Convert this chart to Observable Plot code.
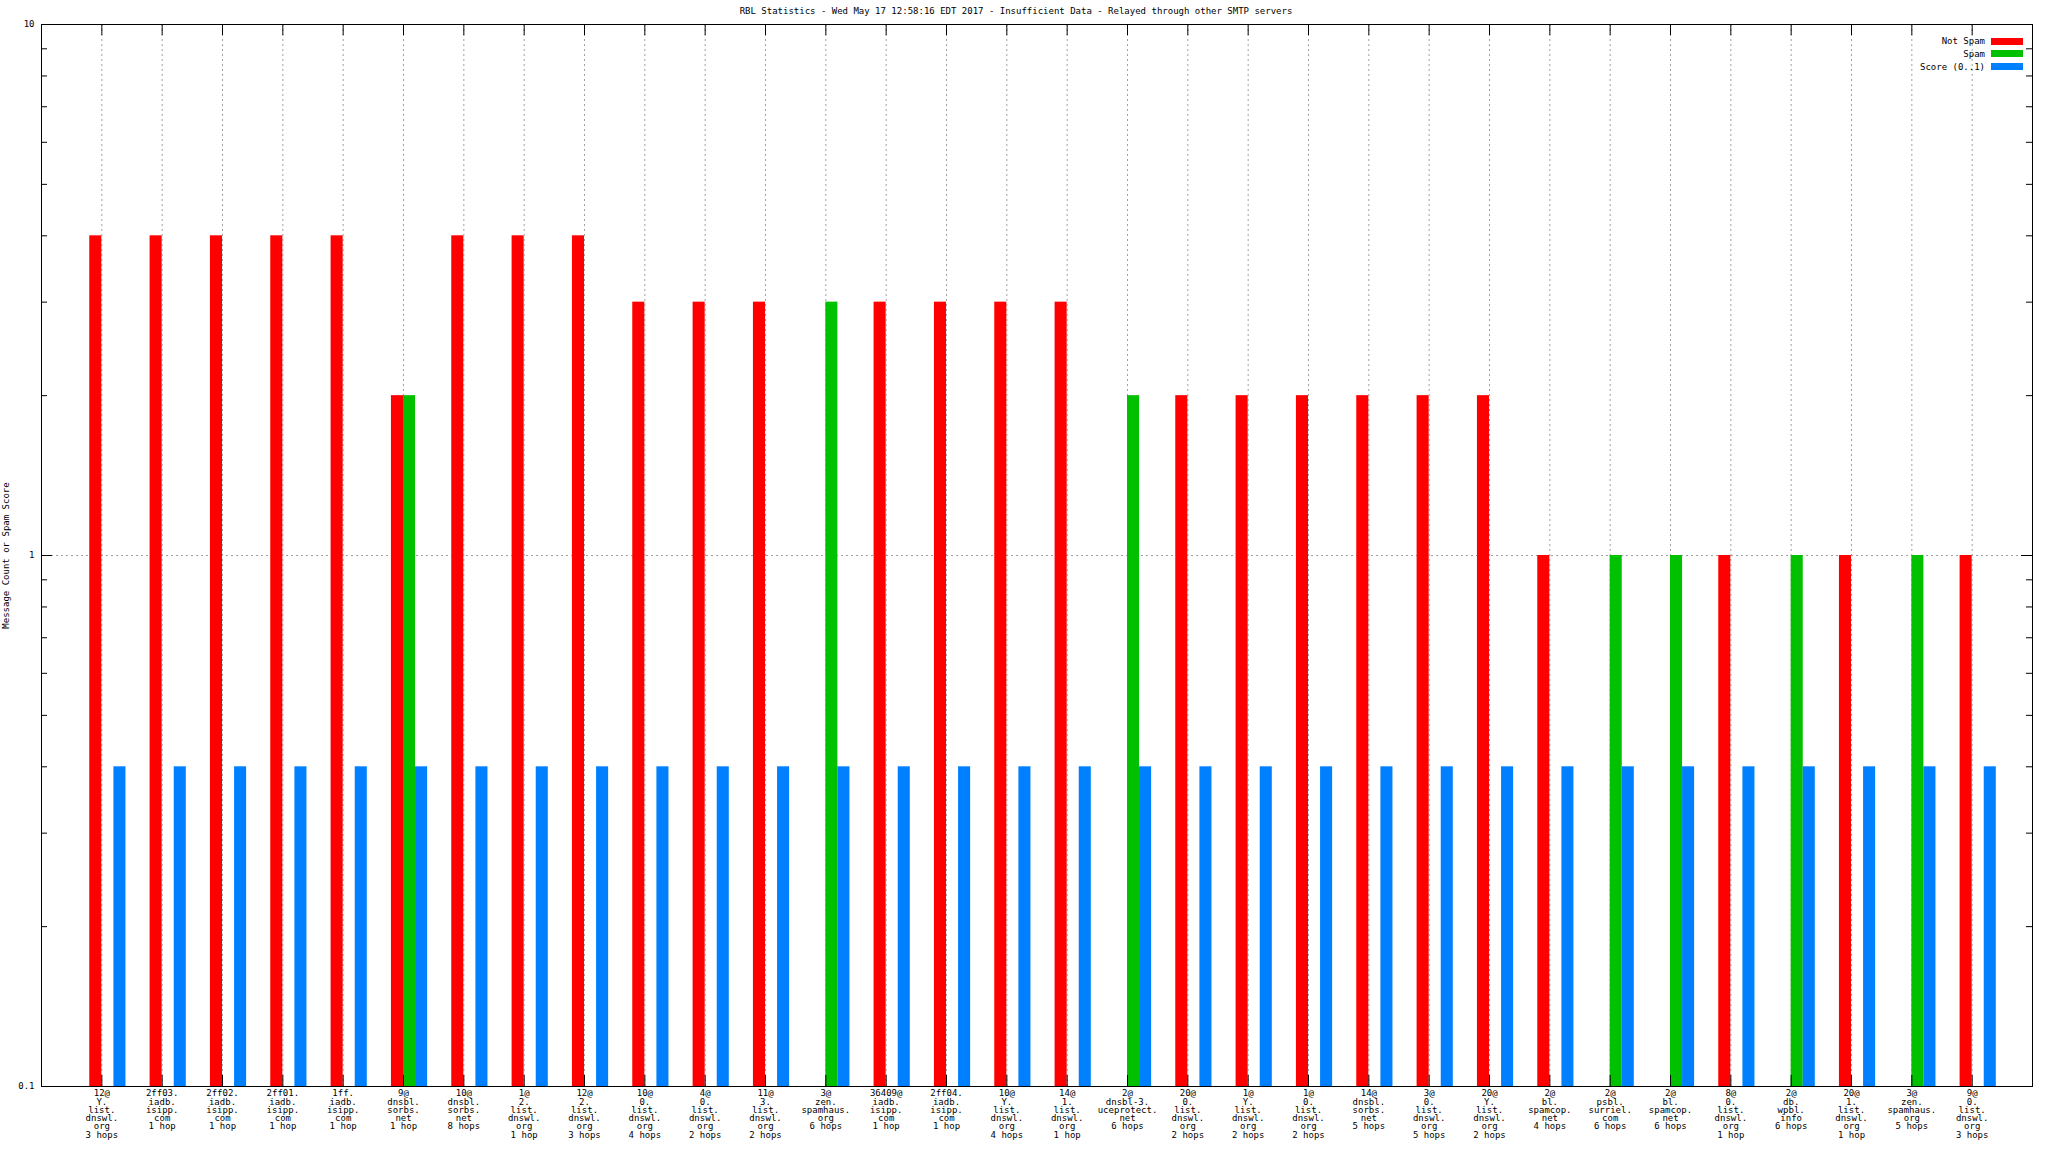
<!DOCTYPE html>
<html>
<head>
<meta charset="utf-8">
<script src="https://cdn.jsdelivr.net/npm/d3@7"></script>
<script src="https://cdn.jsdelivr.net/npm/@observablehq/plot@0.6"></script>
<style>
  html, body { margin: 0; padding: 0; background: #fff; }
  #wrap { position: relative; width: 2048px; height: 1152px; font-family: "DejaVu Sans Mono", monospace; font-size: 9px; color: #000; }
  #title { position: absolute; top: 6px; left: 0; width: 2032px; text-align: center; line-height: 10px; }
  .leg { position: absolute; right: 25px; height: 12px; display: flex; align-items: center; gap: 6px; line-height: 10px; }
  .sw { width: 32px; height: 7px; }
</style>
</head>
<body>
<div id="wrap">
  <div id="chart"></div>
  <div id="title"></div>
  <div id="legend"></div>
</div>
<script>
const title = "RBL Statistics - Wed May 17 12:58:16 EDT 2017 - Insufficient Data - Relayed through other SMTP servers";
const yLabel = "Message Count or Spam Score";

const categories = [
  "12@\nY.\nlist.\ndnswl.\norg\n3 hops",
  "2ff03.\niadb.\nisipp.\ncom\n1 hop",
  "2ff02.\niadb.\nisipp.\ncom\n1 hop",
  "2ff01.\niadb.\nisipp.\ncom\n1 hop",
  "1ff.\niadb.\nisipp.\ncom\n1 hop",
  "9@\ndnsbl.\nsorbs.\nnet\n1 hop",
  "10@\ndnsbl.\nsorbs.\nnet\n8 hops",
  "1@\n2.\nlist.\ndnswl.\norg\n1 hop",
  "12@\n2.\nlist.\ndnswl.\norg\n3 hops",
  "10@\n0.\nlist.\ndnswl.\norg\n4 hops",
  "4@\n0.\nlist.\ndnswl.\norg\n2 hops",
  "11@\n3.\nlist.\ndnswl.\norg\n2 hops",
  "3@\nzen.\nspamhaus.\norg\n6 hops",
  "36409@\niadb.\nisipp.\ncom\n1 hop",
  "2ff04.\niadb.\nisipp.\ncom\n1 hop",
  "10@\nY.\nlist.\ndnswl.\norg\n4 hops",
  "14@\n1.\nlist.\ndnswl.\norg\n1 hop",
  "2@\ndnsbl-3.\nuceprotect.\nnet\n6 hops",
  "20@\n0.\nlist.\ndnswl.\norg\n2 hops",
  "1@\nY.\nlist.\ndnswl.\norg\n2 hops",
  "1@\n0.\nlist.\ndnswl.\norg\n2 hops",
  "14@\ndnsbl.\nsorbs.\nnet\n5 hops",
  "3@\n0.\nlist.\ndnswl.\norg\n5 hops",
  "20@\nY.\nlist.\ndnswl.\norg\n2 hops",
  "2@\nbl.\nspamcop.\nnet\n4 hops",
  "2@\npsbl.\nsurriel.\ncom\n6 hops",
  "2@\nbl.\nspamcop.\nnet\n6 hops",
  "8@\n0.\nlist.\ndnswl.\norg\n1 hop",
  "2@\ndb.\nwpbl.\ninfo\n6 hops",
  "20@\n1.\nlist.\ndnswl.\norg\n1 hop",
  "3@\nzen.\nspamhaus.\norg\n5 hops",
  "9@\n0.\nlist.\ndnswl.\norg\n3 hops"
];

const notSpam = [4,4,4,4,4,2,4,4,4,3,3,3,0,3,3,3,3,0,2,2,2,2,2,2,1,0,0,1,0,1,0,1];
const spam    = [0,0,0,0,0,2,0,0,0,0,0,0,3,0,0,0,0,2,0,0,0,0,0,0,0,1,1,0,1,0,1,0];
const score   = [0.4,0.4,0.4,0.4,0.4,0.4,0.4,0.4,0.4,0.4,0.4,0.4,0.4,0.4,0.4,0.4,
                 0.4,0.4,0.4,0.4,0.4,0.4,0.4,0.4,0.4,0.4,0.4,0.4,0.4,0.4,0.4,0.4];

const seriesNames = ["Not Spam", "Spam", "Score (0..1)"];
const seriesColors = ["#ff0000", "#00c000", "#0080ff"];
const yMajorTicks = [0.1, 1, 10];
const yMinorTicks = [0.2,0.3,0.4,0.5,0.6,0.7,0.8,0.9,2,3,4,5,6,7,8,9];

// build table: series k occupies slot [i + off[k], i + off[k] + 0.2]
const slotOffset = [-0.2, 0, 0.2];
const seriesValues = [notSpam, spam, score];
const rows = [];
seriesValues.forEach((vals, k) => {
  vals.forEach((v, i) => {
    if (v > 0) rows.push({i, k, v, x1: i + slotOffset[k], x2: i + slotOffset[k] + 0.2});
  });
});
const idx = categories.map((_, i) => i);

const W = 2048, H = 1152;
const mT = 24, mL = 41, mR = 16, mB = 66;
const fw = W - mL - mR, fh = H - mT - mB;
const grid = {stroke: "#a0a0a0", strokeDasharray: "2,3", strokeWidth: 1};

const chart = Plot.plot({
  width: W, height: H,
  marginTop: mT, marginLeft: mL, marginRight: mR, marginBottom: mB,
  style: {fontFamily: "DejaVu Sans Mono, monospace", fontSize: "9px", background: "white", color: "black"},
  x: {type: "linear", domain: [-1, 32], axis: null},
  y: {type: "log", domain: [0.1, 10], axis: null},
  marks: [
    Plot.ruleX(idx, {x: d => d, ...grid}),
    Plot.ruleY([1], {y: d => d, ...grid}),
    Plot.rectY(rows, {x1: "x1", x2: "x2", y1: () => 0.1, y2: "v", fill: d => seriesColors[d.k]}),
    Plot.frame({stroke: "black", strokeWidth: 1}),
    Plot.ruleX(idx, {x: d => d, insetTop: fh - 11, stroke: "black"}),
    Plot.ruleX(idx, {x: d => d, insetBottom: fh - 11, stroke: "black"}),
    Plot.ruleY(yMajorTicks, {y: d => d, insetRight: fw - 11, stroke: "black"}),
    Plot.ruleY(yMajorTicks, {y: d => d, insetLeft: fw - 11, stroke: "black"}),
    Plot.ruleY(yMinorTicks, {y: d => d, insetRight: fw - 6, stroke: "black"}),
    Plot.ruleY(yMinorTicks, {y: d => d, insetLeft: fw - 6, stroke: "black"}),
    Plot.axisX(idx, {x: d => d, anchor: "bottom", tickSize: 0, tickPadding: 4, tickFormat: i => categories[i], lineHeight: 0.92, label: null, fontSize: 9}),
    Plot.axisY(yMajorTicks, {y: d => d, anchor: "left", tickSize: 0, tickPadding: 7, tickFormat: d => String(d), label: null, fontSize: 9}),
    Plot.text([yLabel], {text: d => d, frameAnchor: "left", textAnchor: "middle", rotate: -90, dx: -35, fontSize: 9})
  ]
});
document.getElementById("chart").appendChild(chart);
document.getElementById("title").textContent = title;

const legend = document.getElementById("legend");
seriesNames.forEach((name, k) => {
  const row = document.createElement("div");
  row.className = "leg";
  row.style.top = (35 + k * 12.8) + "px";
  const t = document.createElement("span");
  t.textContent = name;
  const sw = document.createElement("span");
  sw.className = "sw";
  sw.style.background = seriesColors[k];
  row.appendChild(t);
  row.appendChild(sw);
  legend.appendChild(row);
});
</script>
</body>
</html>
